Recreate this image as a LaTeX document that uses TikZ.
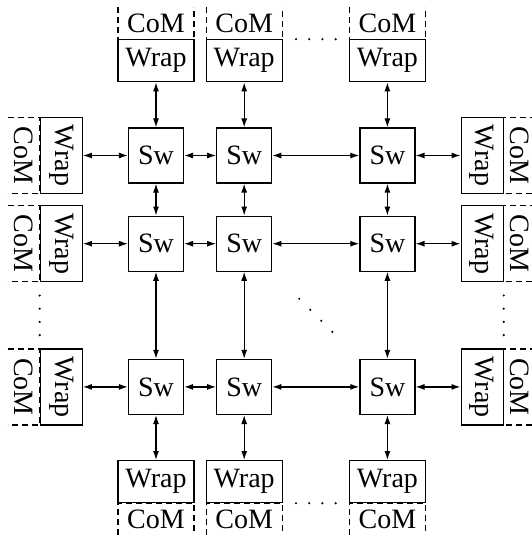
\documentclass[tikz,border=0pt]{standalone}
\usepackage{fontspec}
\setmainfont{Liberation Serif}
\usepackage{graphicx}
\usetikzlibrary{arrows.meta,positioning,calc}

\begin{document}
\begin{tikzpicture}[
  font=\fontsize{14}{16}\selectfont,
  sw/.style={draw, line width=0.6pt, minimum width=27.5pt, minimum height=27.5pt, inner sep=0pt},
  wrap/.style={draw, line width=0.6pt, minimum width=38pt, minimum height=21pt, inner sep=0pt},
  wrapv/.style={wrap, minimum width=21pt, minimum height=38pt},
  com/.style={minimum width=38pt, minimum height=16pt, inner sep=0pt, outer sep=0pt},
  comv/.style={com, minimum width=16pt, minimum height=38pt},
  comline/.style={dash pattern=on 3pt off 2pt, line width=0.6pt},
  arr/.style={{Latex[length=4.5pt,width=3pt]}-{Latex[length=4.5pt,width=3pt]}, line width=0.6pt}
]
\useasboundingbox (-78pt,77.75pt) rectangle (187.5pt,-189.75pt);

\node[sw] (sw11) {Sw};
\node[sw, right=16pt of sw11] (sw12) {Sw};
\node[sw, right=43.5pt of sw12] (sw13) {Sw};
\foreach \c in {1,2,3} {
  \node[sw, below=16pt of sw1\c] (sw2\c) {Sw};
  \node[sw, below=43.5pt of sw2\c] (sw3\c) {Sw};
}

\foreach \c in {1,2,3} {
  \node[wrap, above=22.5pt of sw1\c] (wt\c) {Wrap};
  \node[com, above=0pt of wt\c] (ct\c) {CoM};
  \draw[comline] (ct\c.north west) -- (ct\c.south west) -- (ct\c.south east) -- (ct\c.north east);
  \node[wrap, below=22.5pt of sw3\c] (wb\c) {Wrap};
  \node[com, below=0pt of wb\c] (cb\c) {CoM};
  \draw[comline] (cb\c.south west) -- (cb\c.north west) -- (cb\c.north east) -- (cb\c.south east);
  \draw[arr] (wt\c) -- (sw1\c);
  \draw[arr] (sw1\c) -- (sw2\c);
  \draw[arr] (sw2\c) -- (sw3\c);
  \draw[arr] (sw3\c) -- (wb\c);
}

\foreach \r in {1,2,3} {
  \node[wrapv, left=22.5pt of sw\r1] (wl\r) {\rotatebox{-90}{Wrap}};
  \node[comv, left=0pt of wl\r] (cl\r) {\rotatebox{-90}{CoM}};
  \draw[comline] (cl\r.north west) -- (cl\r.north east) -- (cl\r.south east) -- (cl\r.south west);
  \node[wrapv, right=22.5pt of sw\r3] (wr\r) {\rotatebox{-90}{Wrap}};
  \node[comv, right=0pt of wr\r] (cr\r) {\rotatebox{-90}{CoM}};
  \draw[comline] (cr\r.north east) -- (cr\r.north west) -- (cr\r.south west) -- (cr\r.south east);
  \draw[arr] (wl\r) -- (sw\r1);
  \draw[arr] (sw\r1) -- (sw\r2);
  \draw[arr] (sw\r2) -- (sw\r3);
  \draw[arr] (sw\r3) -- (wr\r);
}

\foreach \f in {0.2,0.4,0.6,0.8} {
  \fill ($(wt2.north east)!\f!(wt3.north west)$) circle (0.6pt);
  \fill ($(wb2.south east)!\f!(wb3.south west)$) circle (0.6pt);
  \fill ($(wl2.south west)!\f!(wl3.north west)$) circle (0.6pt);
  \fill ($(wr2.south east)!\f!(wr3.north east)$) circle (0.6pt);
}
\foreach \f in {0.31,0.437,0.563,0.69}
  \fill ($(sw22.south east)!\f!(sw33.north west)$) circle (0.6pt);

\end{tikzpicture}
\end{document}
